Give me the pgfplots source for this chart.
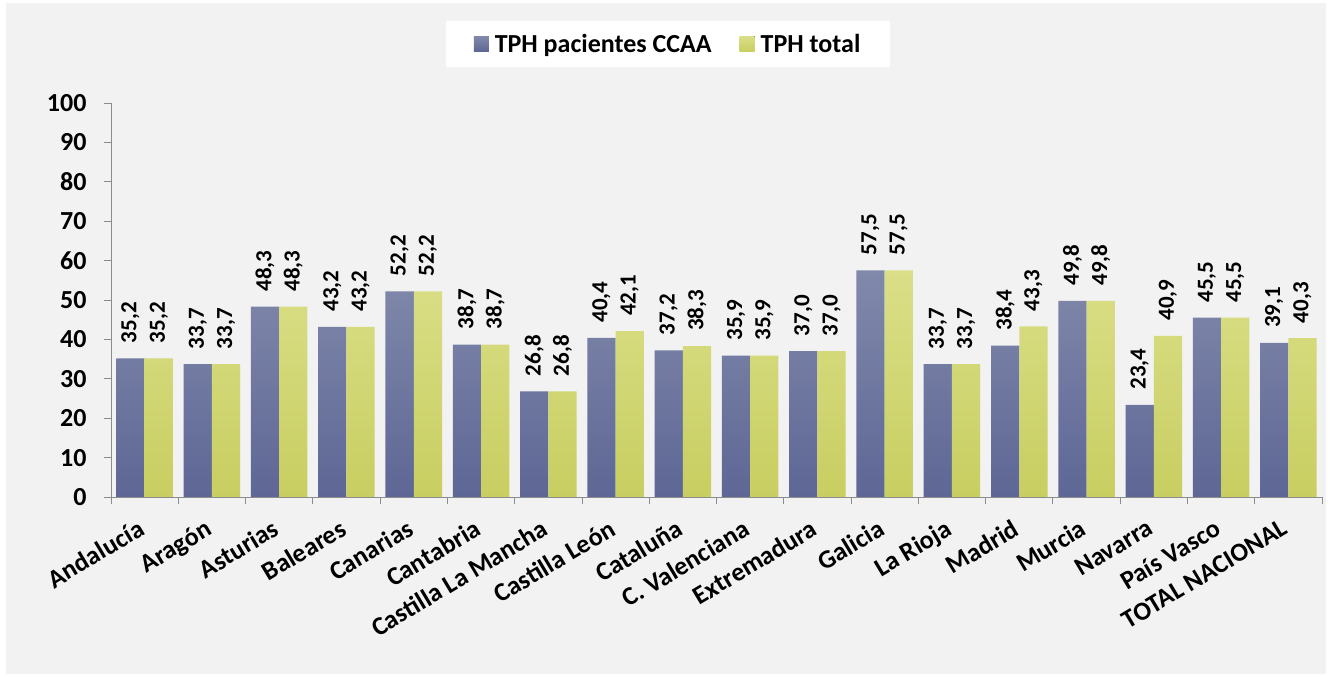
\documentclass[border=0pt]{standalone}
\usepackage{fontspec}
\setmainfont{Carlito}
\usepackage{pgfplots}
\pgfplotsset{compat=1.18}
\definecolor{bgGray}{HTML}{F2F2F2}
\definecolor{axGray}{HTML}{8C8C8C}
\definecolor{bTop}{HTML}{8189AB}
\definecolor{bBot}{HTML}{5E6795}
\definecolor{yTop}{HTML}{DADF88}
\definecolor{yBot}{HTML}{C8CE60}

\begin{document}
\begin{tikzpicture}[x=1pt,y=1pt]
\fill[white] (0,0) rectangle (1330,677);
\fill[bgGray] (6,3) rectangle (1326,674);
\begin{axis}[
  at={(111pt,180pt)}, anchor=south west,
  scale only axis, width=1211pt, height=394pt,
  xmin=-0.5, xmax=17.5, ymin=0, ymax=100,
  axis x line*=bottom, axis y line*=left,
  axis line style={-, draw=axGray, line width=0.8pt},
  ybar, bar width=0.42,
  xtick={-0.5,0.5,...,17.5},
  x tick label as interval,
  xticklabels={Andalucía, Aragón, Asturias, Baleares, Canarias, Cantabria,
    Castilla La Mancha, Castilla León, Cataluña, C. Valenciana, Extremadura,
    Galicia, La Rioja, Madrid, Murcia, Navarra, País Vasco, TOTAL NACIONAL},
  ytick={0,10,...,100},
  major tick length=7pt,
  tick align=outside,
  tick style={draw=axGray, line width=0.8pt},
  /pgf/number format/assume math mode=true,
  yticklabel style={font=\fontsize{26}{30}\selectfont\bfseries, xshift=-14pt},
  xticklabel style={font=\fontsize{26}{30}\selectfont\bfseries,
    rotate=31, anchor=north east, inner sep=0pt, yshift=-8pt, xshift=-14pt},
  clip=false,
  nodes near coords={\pgfmathprintnumber[fixed,fixed zerofill,precision=1,use comma]{\pgfplotspointmeta}},
  nodes near coords style={font=\fontsize{23}{26}\selectfont\bfseries,
    rotate=90, anchor=west, inner xsep=15pt, inner ysep=0pt},
  legend style={at={(0.46,1.15)}, anchor=center, legend columns=2,
    draw=none, fill=white, font=\fontsize{26}{30}\selectfont\bfseries,
    inner xsep=28pt, inner ysep=11pt,
    /tikz/every odd column/.append style={column sep=4pt},
    /tikz/every even column/.append style={column sep=26pt}},
  legend image code/.code={\fill[#1] (0pt,-7.5pt) rectangle (15pt,7.5pt);},
]
\addplot[draw=none, top color=bTop, bottom color=bBot, bar shift=-0.21]
  coordinates {(0,35.2) (1,33.7) (2,48.3) (3,43.2) (4,52.2) (5,38.7) (6,26.8)
  (7,40.4) (8,37.2) (9,35.9) (10,37.0) (11,57.5) (12,33.7) (13,38.4) (14,49.8)
  (15,23.4) (16,45.5) (17,39.1)};
\addlegendentry{TPH pacientes CCAA}
\addplot[draw=none, top color=yTop, bottom color=yBot, bar shift=0.21]
  coordinates {(0,35.2) (1,33.7) (2,48.3) (3,43.2) (4,52.2) (5,38.7) (6,26.8)
  (7,42.1) (8,38.3) (9,35.9) (10,37.0) (11,57.5) (12,33.7) (13,43.3) (14,49.8)
  (15,40.9) (16,45.5) (17,40.3)};
\addlegendentry{TPH total}
\end{axis}
\end{tikzpicture}
\end{document}
